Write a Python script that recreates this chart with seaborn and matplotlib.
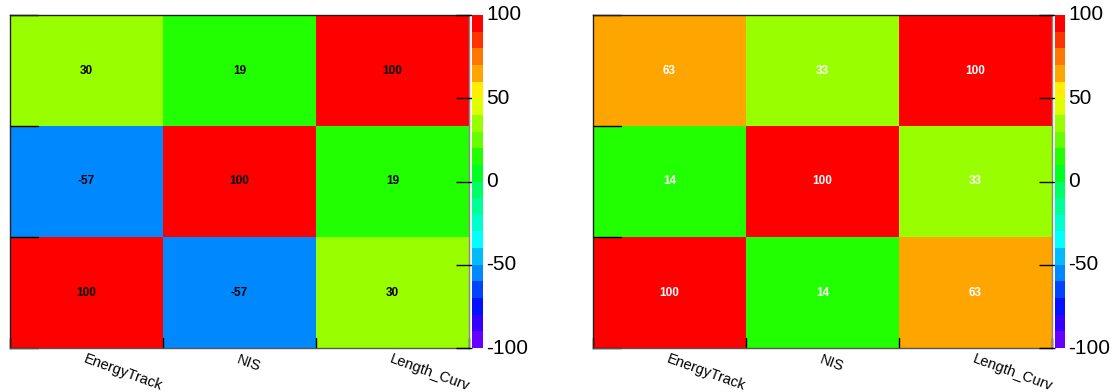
import numpy as np
import pandas as pd
import matplotlib
matplotlib.use("Agg")
import matplotlib.pyplot as plt
from matplotlib.colors import ListedColormap
import seaborn as sns

sns.set_style("white")
plt.rcParams['font.family'] = ['Liberation Sans', 'DejaVu Sans']
plt.rcParams['text.color'] = 'black'
plt.rcParams['xtick.color'] = 'black'
plt.rcParams['ytick.color'] = 'black'

variables = ["EnergyTrack", "NIS", "Length_Curv"]
# rows listed top to bottom (as displayed)
left_values = [[30, 19, 100],
               [-57, 100, 19],
               [100, -57, 30]]
right_values = [[63, 33, 100],
                [14, 100, 33],
                [100, 14, 63]]
row_labels = ["Length_Curv", "NIS", "EnergyTrack"]
cbar_ticks = [-100, -50, 0, 50, 100]

palette_colors = ['#6600ff', '#3300ff', '#0011ff', '#0044ff', '#0088ff',
                  '#00bbff', '#00ffff', '#00ffcc', '#00ff99', '#00ff66',
                  '#00ff22', '#22ff00', '#66ff00', '#99ff00', '#ddff00',
                  '#ffee00', '#ffa500', '#ff7700', '#ff3300', '#ff0000']
cmap = ListedColormap(palette_colors)

W, H = 1115, 392
fig = plt.figure(figsize=(W / 100, H / 100), dpi=100)

def fx(px):
    return px / W

def fy(py):
    return py / H

panels = [
    (left_values, 10, 469, 472, 483, 'black'),
    (right_values, 593, 1052, 1055, 1065, 'white'),
]
top_px, bot_px = 15, 348

for vals, x0, x1, c0, c1, txtcol in panels:
    ax = fig.add_axes([fx(x0), fy(H - bot_px), fx(x1 - x0), fy(bot_px - top_px)])
    cax = fig.add_axes([fx(c0), fy(H - bot_px), fx(c1 - c0), fy(bot_px - top_px)])
    df = pd.DataFrame(vals, index=row_labels, columns=variables)
    sns.heatmap(df, ax=ax, cmap=cmap, vmin=-100, vmax=100, annot=True, fmt="d",
                annot_kws={"fontsize": 8.5, "fontweight": "bold", "color": txtcol},
                cbar=True, cbar_ax=cax, linewidths=0)
    ax.set_xticks([0.5, 1.5, 2.5])
    ax.set_xticklabels(variables, rotation=-20, ha='left', va='top', fontsize=10.5,
                       rotation_mode='anchor', color='black')
    ax.tick_params(axis='x', length=0, pad=3)
    ax.set_yticks([])
    ax.set_xlabel("")
    ax.set_ylabel("")
    # ROOT-like boundary ticks
    for b in [0, 1, 2, 3]:
        ax.plot([b, b], [3, 3 - 0.09], color='black', lw=1, clip_on=False)
        ax.plot([0, 0.18], [b, b], color='black', lw=1, clip_on=False)
    for side, sp in ax.spines.items():
        sp.set_visible(True)
        sp.set_color('#222222')
        sp.set_linewidth(1.0)
    ax.spines['bottom'].set_color('#555555')
    ax.spines['right'].set_color('#888888')
    # colorbar
    cax.set_yticks(cbar_ticks)
    cax.set_yticklabels([str(t) for t in cbar_ticks], fontsize=15, color='black')
    cax.yaxis.set_ticks_position('left')
    cax.tick_params(axis='y', left=True, right=False, labelleft=False, labelright=True,
                    direction='out', length=11.5, width=1, pad=-9, color='black',
                    labelcolor='black')
    for lab in cax.get_yticklabels():
        lab.set_va('center')
    cax.set_frame_on(False)

fig.savefig("out.png", dpi=100)
